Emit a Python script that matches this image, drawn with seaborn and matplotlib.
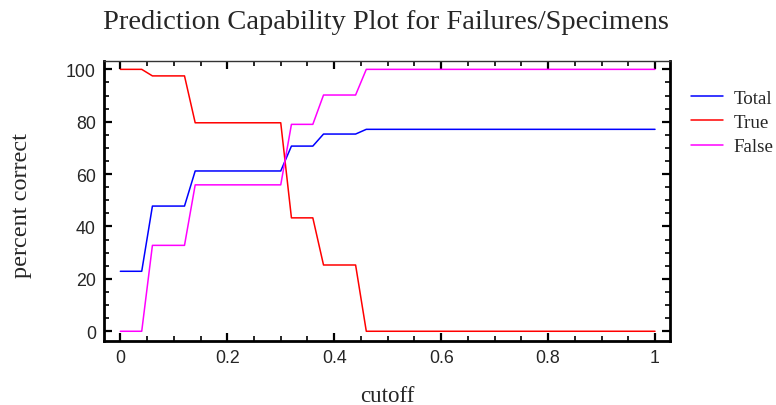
import matplotlib
matplotlib.use("Agg")
import matplotlib.pyplot as plt
from matplotlib.ticker import MultipleLocator
import seaborn as sns
import pandas as pd

# Cutoff values where the classification rates change
cutoff = [0.0, 0.04, 0.06, 0.12, 0.14, 0.30, 0.32, 0.36, 0.38, 0.44, 0.46, 1.0]
total_pct = [22.9, 22.9, 47.8, 47.8, 61.2, 61.2, 70.7, 70.7, 75.3, 75.3, 77.1, 77.1]
true_pct = [100.0, 100.0, 97.5, 97.5, 79.6, 79.6, 43.3, 43.3, 25.3, 25.3, 0.0, 0.0]
false_pct = [0.0, 0.0, 32.8, 32.8, 55.9, 55.9, 79.0, 79.0, 90.2, 90.2, 100.0, 100.0]

series_names = ["Total", "True", "False"]
series_colors = ["#0000ff", "#ff0000", "#ff00ff"]

df = pd.concat([
    pd.DataFrame({"cutoff": cutoff, "percent": vals, "series": name})
    for name, vals in zip(series_names, [total_pct, true_pct, false_pct])
], ignore_index=True)

sns.set_style("white")
serif = ["Liberation Serif", "DejaVu Serif"]
sans = ["Liberation Sans", "DejaVu Sans"]

fig = plt.figure(figsize=(7.76, 4.06), dpi=100)
ax = fig.add_axes([0.1344, 0.1584, 0.8634 - 0.1344, 0.848 - 0.1584])

sns.lineplot(data=df, x="cutoff", y="percent", hue="series",
             hue_order=series_names, palette=series_colors,
             linewidth=1.1, ax=ax, legend=False, sort=False,
             estimator=None)

ax.set_xlim(-0.030, 1.028)
ax.set_ylim(-3.6, 103.3)
ax.xaxis.set_minor_locator(MultipleLocator(0.05))
ax.yaxis.set_minor_locator(MultipleLocator(5))
ax.set_xticks([0, 0.2, 0.4, 0.6, 0.8, 1.0])
ax.set_xticklabels(["0", "0.2", "0.4", "0.6", "0.8", "1"])
ax.set_yticks([0, 20, 40, 60, 80, 100])
ax.set_yticklabels(["0", "20", "40", "60", "80", "100"])

ax.tick_params(which="both", direction="in", top=True, right=True,
               bottom=True, left=True, color="black")
ax.tick_params(which="major", length=6, width=1.6, labelsize=12.8, pad=6)
ax.tick_params(which="minor", length=3.5, width=1.2)
for lbl in ax.get_xticklabels() + ax.get_yticklabels():
    lbl.set_fontfamily(sans)

for side in ["left", "bottom", "right"]:
    ax.spines[side].set_color("black")
    ax.spines[side].set_linewidth(2.0)
ax.spines["top"].set_color("#333333")
ax.spines["top"].set_linewidth(1.0)

ax.set_xlabel("cutoff", fontsize=16.5, family=serif, va="center")
ax.set_ylabel("percent correct", fontsize=17.5, family=serif, va="center")
ax.xaxis.set_label_coords(0.5006, -0.197)
ax.yaxis.set_label_coords(-0.147, 0.487)

fig.text(0.497, 0.945, "Prediction Capability Plot for Failures/Specimens",
         ha="center", va="center", fontsize=20.5, family=serif)

# Legend drawn at the right of the plot area
handles = [plt.Line2D([], [], color=c, linewidth=1.1) for c in series_colors]
leg = fig.legend(handles, series_names, loc="upper left",
                 bbox_to_anchor=(0.890, 0.777), frameon=False,
                 prop={"family": serif, "size": 13.7}, handlelength=1.7,
                 handletextpad=0.55, labelspacing=0.36, borderaxespad=0,
                 borderpad=0)

fig.savefig("out.png", dpi=100)
